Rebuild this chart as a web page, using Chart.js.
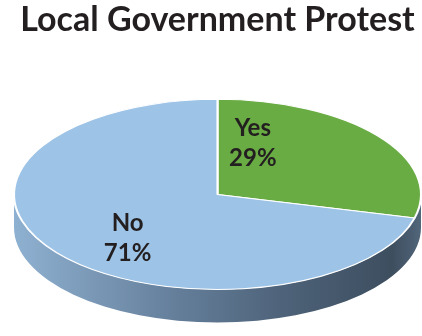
<!DOCTYPE html>
<html>
<head>
<meta charset="utf-8">
<script src="https://cdn.jsdelivr.net/npm/chart.js@4"></script>
<style>
  html, body { margin: 0; padding: 0; background: #fff; }
  #wrap { width: 422px; height: 336px; }
</style>
</head>
<body>
<div id="wrap"><canvas id="ProtestChart"></canvas></div>
<script>
const categories = ['Yes', 'No'];
const shares = [29, 71];
const sliceColors = ['#6aac44', '#9dc3e6'];

// where each label sits: fraction along the slice angle, fraction of radius
const labelSpots = [[0.17, 0.57], [0.47, 0.63]];
const depth = 33;

const pie3d = {
  id: 'pie3d',
  beforeDatasetsDraw(chart) {
    const arc = chart.getDatasetMeta(0).data[0];
    const area = chart.chartArea;
    const ctx = chart.ctx;
    const cx = arc.x, cy = arc.y;
    const rx = area.width / 2, ry = arc.outerRadius;

    // side wall
    const grad = ctx.createLinearGradient(area.left, 0, area.right, 0);
    grad.addColorStop(0, '#8fb1d1');
    grad.addColorStop(0.4, '#647e9a');
    grad.addColorStop(0.7, '#4b5f75');
    grad.addColorStop(0.93, '#3d4e5f');
    grad.addColorStop(1, '#52667a');
    ctx.save();
    ctx.fillStyle = grad;
    ctx.beginPath();
    ctx.ellipse(cx, cy + depth, rx, ry, 0, 0, Math.PI);
    ctx.lineTo(cx - rx, cy);
    ctx.ellipse(cx, cy, rx, ry, 0, Math.PI, 0, true);
    ctx.closePath();
    ctx.fill();
    ctx.restore();

    // squash the round pie into the top face
    ctx.save();
    ctx.translate(cx, cy);
    ctx.scale(rx / ry, 1);
    ctx.translate(-cx, -cy);
  },
  afterDatasetsDraw(chart) {
    chart.ctx.restore();
  },
  afterDraw(chart) {
    const ctx = chart.ctx;
    const area = chart.chartArea;
    const meta = chart.getDatasetMeta(0);
    ctx.save();
    ctx.font = 'bold 24px Lato';
    ctx.fillStyle = '#231f20';
    ctx.textAlign = 'center';
    ctx.textBaseline = 'alphabetic';
    meta.data.forEach((arc, i) => {
      const [f, rf] = labelSpots[i];
      const a = arc.startAngle + f * (arc.endAngle - arc.startAngle);
      const sx = (area.width / 2) / arc.outerRadius;
      const px = arc.x + Math.cos(a) * rf * arc.outerRadius * sx;
      const py = arc.y + Math.sin(a) * rf * arc.outerRadius;
      const cap = 17;
      ctx.fillText(categories[i], px, py - 15 + cap / 2);
      ctx.fillText(shares[i] + '%', px, py + 15 + cap / 2);
    });
    ctx.restore();
  }
};

new Chart(document.getElementById('ProtestChart'), {
  type: 'pie',
  data: {
    labels: categories,
    datasets: [{
      data: shares,
      backgroundColor: sliceColors,
      borderColor: '#ffffff',
      borderWidth: 1
    }]
  },
  plugins: [pie3d],
  options: {
    responsive: true,
    maintainAspectRatio: false,
    animation: false,
    layout: {
      padding: { left: 14, right: 1, top: 0, bottom: 46 }
    },
    plugins: {
      legend: { display: false },
      tooltip: { enabled: false },
      title: {
        display: true,
        text: 'Local Government Protest',
        color: '#231f20',
        font: { family: 'Lato', size: 34, weight: 'bold' },
        padding: { top: 0, bottom: 58 }
      }
    }
  }
});
</script>
</body>
</html>
